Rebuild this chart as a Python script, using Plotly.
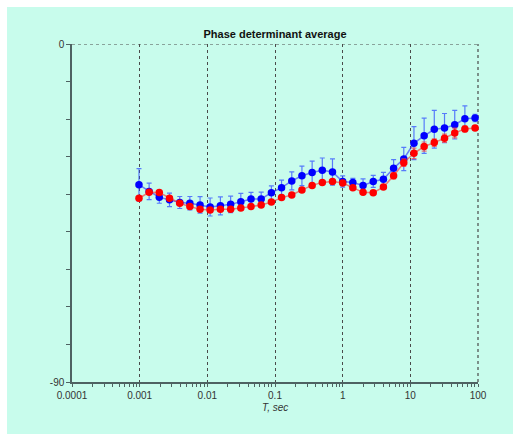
import plotly.graph_objects as go

# Periods (sec)
periods = [0.000977, 0.00138, 0.00195, 0.00276, 0.00391, 0.00552, 0.00781, 0.0110,
           0.0156, 0.0221, 0.03125, 0.0442, 0.0625, 0.0884, 0.125, 0.177, 0.25, 0.354,
           0.5, 0.707, 1.0, 1.414, 2.0, 2.83, 4.0, 5.66, 8.0, 11.31, 16.0, 22.6, 32.0,
           45.3, 64.0, 90.5]

blue_vals = [-37.5, -39.25, -40.8, -41.5, -42.2, -42.4, -42.85, -43.4, -43.1, -42.7,
             -42.0, -41.3, -41.25, -39.6, -38.25, -36.45, -35.1, -34.2, -33.65, -34.1,
             -36.6, -36.9, -37.7, -36.6, -36.0, -33.1, -30.6, -26.4, -24.45, -22.7,
             -22.4, -21.5, -19.9, -19.7]
blue_err = [4.3, 2.2, 1.6, 1.8, 1.6, 1.8, 2.2, 2.4, 2.4, 2.2, 2.2, 1.8, 1.8, 1.8, 2.0,
            2.4, 2.6, 3.0, 3.3, 3.5, 1.5, 1.1, 1.8, 1.6, 1.8, 2.3, 3.1, 4.4, 4.7, 5.0,
            3.9, 3.8, 3.4, 1.0]

red_vals = [-41.07, -39.47, -39.57, -41.07, -42.4, -43.3, -44.0, -44.2, -44.0, -44.0,
            -43.7, -43.3, -42.85, -42.1, -40.9, -40.2, -38.85, -37.65, -36.85, -36.6,
            -37.0, -38.25, -39.5, -39.6, -38.1, -35.1, -31.6, -29.1, -27.3, -26.25,
            -25.1, -23.7, -22.6, -22.4]
red_err = [0.5, 0.5, 0.5, 0.5, 0.5, 0.5, 0.5, 0.5, 0.5, 0.5, 0.5, 0.5, 0.5, 0.5, 0.5,
           0.5, 0.5, 0.5, 0.5, 0.5, 0.5, 0.5, 0.5, 0.5, 0.6, 0.8, 1.0, 1.4, 1.2, 1.0,
           1.1, 1.3, 0.8, 0.5]

x_tickvals = [0.0001, 0.001, 0.01, 0.1, 1, 10, 100]
x_ticktext = ["0.0001", "0.001", "0.01", "0.1", "1", "10", "100"]
y_tickvals = [0, -10, -20, -30, -40, -50, -60, -70, -80, -90]
y_ticktext = ["0", "", "", "", "", "", "", "", "", "-90"]

MINT = "#C8FCEC"
AXIS = "#4E6262"
GRID = "#4A4A4A"
FONT = "Liberation Sans"

fig = go.Figure()
fig.add_trace(go.Scatter(
    x=periods, y=blue_vals, mode="lines+markers",
    line=dict(color="rgba(40,40,255,0.6)", width=1.5),
    marker=dict(color="#0000FF", size=7.5),
    error_y=dict(type="data", array=blue_err, visible=True,
                 color="rgba(50,80,255,0.75)", thickness=1.2, width=2.5),
    showlegend=False, cliponaxis=False))
fig.add_trace(go.Scatter(
    x=periods, y=red_vals, mode="lines+markers",
    line=dict(color="rgba(255,40,40,0.6)", width=1.5),
    marker=dict(color="#FF0000", size=7.5),
    error_y=dict(type="data", array=red_err, visible=True,
                 color="rgba(255,60,60,0.7)", thickness=1.2, width=2.5),
    showlegend=False, cliponaxis=False))

fig.update_layout(
    width=513, height=434,
    margin=dict(l=72, r=35, t=44, b=52),
    paper_bgcolor="white",
    plot_bgcolor="rgba(0,0,0,0)",
    font=dict(family=FONT, size=10, color="#333333"),
    title=dict(text="<b>Phase determinant average</b>", x=0.5, xref="paper",
               xanchor="center", y=1 - 34 / 434, yref="container", yanchor="middle",
               font=dict(family=FONT, size=11, color="#111111")),
    xaxis=dict(type="log", range=[-4, 2], tickvals=x_tickvals, ticktext=x_ticktext,
               showgrid=True, gridcolor=GRID, griddash="dot", gridwidth=1.2,
               showline=True, linecolor=AXIS, linewidth=1.5,
               ticks="outside", ticklen=3, tickcolor=AXIS, tickwidth=1,
               minor=dict(ticks="outside", ticklen=3, tickcolor=AXIS, dtick="D1",
                          showgrid=False),
               zeroline=False, tickfont=dict(size=10, color="#333333")),
    yaxis=dict(range=[-90, 0], tickvals=y_tickvals, ticktext=y_ticktext,
               showgrid=False, showline=True, linecolor=AXIS, linewidth=1.5,
               ticks="outside", ticklen=4, tickcolor=AXIS, tickwidth=1,
               zeroline=False, tickfont=dict(size=10, color="#333333")),
    shapes=[
        dict(type="rect", xref="paper", yref="paper",
             x0=(7 - 72) / 406, x1=(513 - 72) / 406,
             y0=-(434 - 382) / 338, y1=1 + (44 - 7) / 338,
             fillcolor=MINT, line=dict(width=0), layer="below"),
        dict(type="line", xref="paper", yref="y", x0=0, x1=1, y0=0, y1=0,
             line=dict(color=GRID, width=1.2, dash="dot"), layer="below"),
        dict(type="line", xref="paper", yref="paper", x0=1, x1=1, y0=0, y1=1,
             line=dict(color=GRID, width=1.2, dash="dot"), layer="below"),
    ],
    annotations=[
        dict(text="<i>T, sec</i>", xref="paper", yref="paper", x=0.5,
             y=-(407 - 382) / 338, showarrow=False, xanchor="center", yanchor="middle",
             font=dict(family=FONT, size=10, color="#333333")),
    ],
)

fig.write_html("out.html")
